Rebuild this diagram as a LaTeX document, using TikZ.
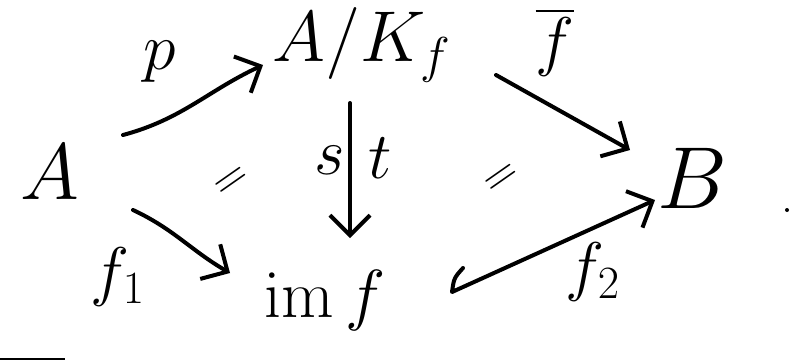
\RequirePackage{fix-cm}
\documentclass[tikz,border=0pt]{standalone}
\usepackage{amsmath}
\usetikzlibrary{arrows.meta,calc}
\begin{document}
\begin{tikzpicture}[x=0.5pt,y=-0.5pt,
  obj/.style={inner sep=0pt,font=\fontsize{40}{44}\selectfont},
  lbl/.style={inner sep=0pt,font=\fontsize{33}{36}\selectfont},
  eqs/.style={inner sep=0pt,font=\fontsize{24}{26}\selectfont,rotate=35},
  map/.style={line width=2pt,line cap=round,line join=round,-{Straight Barb[length=10pt,width=20pt,line width=2pt]}}]
\useasboundingbox (0,0) rectangle (790,360);
\node[obj] (A) at (50,172) {$A$};
\node[obj,font=\fontsize{36}{40}\selectfont] (AK) at (362,45) {$A/K_f$};
\node[obj,font=\fontsize{44}{48}\selectfont] (B) at (692,178) {$B$};
\node[obj,font=\fontsize{34}{38}\selectfont] (imf) at (325,300) {$\operatorname{im} f$};
\node[lbl] (lp) at (160,62) {$p$};
\node[lbl] (lfb) at (555,42) {$\overline{f}$};
\node[lbl] (ls) at (330,160) {$s$};
\node[lbl] (lt) at (380,158) {$t$};
\node[lbl] (lf1) at (118,277) {$f_1$};
\node[lbl] (lf2) at (593,272) {$f_2$};
\node[eqs] (eq1) at (233,183) {$=$};
\node[eqs] (eq2) at (503,180) {$=$};
\draw[map] ($(A)+(73,-37)$) to[out=15,in=205] ($(AK)+(-99,20)$);
\draw[map] ($(AK)+(134,30)$) -- ($(B)+(-62,-28)$);
\draw[map] ($(AK)+(-12,58)$) -- ($(imf)+(25,-62)$);
\draw[map] ($(A)+(83,38)$) to[out=-25,in=150] ($(imf)+(-95,-27)$);
\draw[map] ($(imf)+(138,-32)$) .. controls ($(imf)+(129,-22)$) .. ($(imf)+(127,-8)$) -- ($(B)+(-37,22)$);
\fill (787,210) circle (2);
\draw[line width=1pt] (0,359) -- (65,359);
\end{tikzpicture}
\end{document}
